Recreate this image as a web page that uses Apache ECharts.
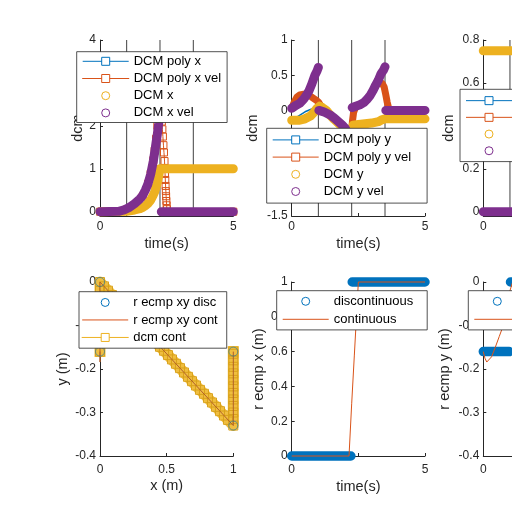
<!DOCTYPE html>
<html><head><meta charset="utf-8">
<script src="https://cdn.jsdelivr.net/npm/echarts@6/dist/echarts.min.js"></script>
<style>html,body{margin:0;padding:0;background:#fff}#c{width:512px;height:512px}</style>
</head><body><div id="c"></div>
<script>
// ---------- tick values ----------
const phaseTimes = [1, 2.25, 3.5];
const xTimeLabels = [0, 5];
const xTimeTicks = [0, 2.5, 5];
const xyTicks = [0, 0.5, 1];
const yTicksDcmX = [0, 1, 2, 3, 4];
const yTicksDcmY = [-1.5, -1, -0.5, 0, 0.5, 1];
const yTicksDcmZ = [0, 0.2, 0.4, 0.6, 0.8];
const yTicksEcmpX = [0, 0.2, 0.4, 0.6, 0.8, 1];
const yTicksEcmpY = [-0.4, -0.3, -0.2, -0.1, 0];

// ---------- subplot 1: DCM x ----------
const dcmPolyX = [[0,0],[1,0.01],[1.3,0.04],[1.5,0.07],[1.6,0.1],[1.7,0.14],[1.8,0.19],[1.9,0.27],[2,0.39],[2.05,0.46],[2.1,0.57],[2.15,0.68],[2.2,0.83],[2.25,1],[5,1]];
const dcmPolyXVel = [[0,0],[0.8,0.01],[1,0.05],[1.2,0.1],[1.4,0.18],[1.6,0.35],[1.8,0.65],[1.9,0.88],[2,1.2],[2.05,1.42],[2.1,1.7],[2.15,2],[2.2,2.3],[2.25,2.5],[2.3,2.3],[2.32,2.1],[2.34,1.92],[2.36,1.75],[2.38,1.55],[2.4,1.38],[2.42,1.18],[2.43,1.02],[2.44,0.88],[2.45,0.74],[2.46,0.6],[2.47,0.48],[2.48,0.36],[2.49,0.25],[2.5,0.15],[2.51,0.06],[2.53,0],[5,0]];
const dcmX = [[0,0],[1,0.01],[1.3,0.04],[1.5,0.07],[1.6,0.1],[1.7,0.14],[1.8,0.19],[1.9,0.27],[2,0.39],[2.05,0.46],[2.1,0.57],[2.15,0.68],[2.2,0.83],[2.25,1],[5,1]];
const dcmXVel = [[0,0],[0.7,0.01],[0.9,0.04],[1.1,0.1],[1.3,0.19],[1.5,0.3],[1.6,0.38],[1.7,0.5],[1.8,0.65],[1.9,0.87],[2,1.18],[2.05,1.38],[2.1,1.6],[2.15,1.8],[2.2,2.05],[2.25,2.45],[2.27,null],[2.3,0],[5,0]];

// ---------- subplot 2: DCM y ----------
const dcmPolyY = [[0,-0.14],[0.25,-0.08],[0.5,-0.02],[0.75,0.02],[1,0.03],[1.25,0],[1.5,-0.06],[1.75,-0.13],[2,-0.2],[2.25,-0.25],[2.5,-0.22],[2.75,-0.2],[3,-0.18],[3.25,-0.15],[3.5,-0.12],[5,-0.12]];
const dcmPolyYVel = [[0,0.03],[0.1,0.12],[0.2,0.19],[0.3,0.22],[0.45,0.23],[0.6,0.22],[0.75,0.19],[0.9,0.15],[1,0.12],[1.1,0.06],[1.2,0.01],[1.4,-0.05],[1.6,-0.11],[1.8,-0.18],[2,-0.26],[2.15,-0.35],[2.25,-0.3],[2.28,-0.15],[2.32,-0.03],[2.4,0.05],[2.6,0.09],[2.8,0.14],[3,0.24],[3.2,0.37],[3.3,0.41],[3.4,0.38],[3.47,0.33],[3.53,0.22],[3.58,0.12],[3.63,0.04],[3.7,0],[5,0]];
const dcmY = [[0,-0.14],[0.3,-0.14],[0.5,-0.12],[0.7,-0.08],[0.85,-0.02],[0.95,0.03],[1.05,0.06],[1.15,0.04],[1.3,0],[1.45,-0.07],[1.6,-0.13],[1.8,-0.2],[2,-0.26],[2.25,-0.33],[2.27,null],[2.3,-0.21],[2.5,-0.2],[2.75,-0.19],[3,-0.18],[3.25,-0.16],[3.4,-0.13],[3.5,-0.12],[5,-0.12]];
const dcmYVel = [[0,0.03],[0.15,0.07],[0.3,0.1],[0.45,0.16],[0.56,0.22],[0.65,0.28],[0.75,0.37],[0.87,0.5],[0.95,0.56],[1,0.61],[1.01,null],[1.02,0],[1.2,-0.02],[1.44,-0.065],[1.6,-0.11],[1.75,-0.16],[1.9,-0.21],[2,-0.25],[2.1,-0.32],[2.2,-0.42],[2.24,-0.5],[2.25,null],[2.27,0.04],[2.56,0.08],[2.7,0.11],[2.81,0.15],[2.94,0.21],[3.06,0.29],[3.15,0.36],[3.25,0.43],[3.35,0.52],[3.44,0.57],[3.5,0.62],[3.51,null],[3.53,0],[5,0]];

// ---------- subplot 3: DCM z ----------
const dcmPolyZ = [[0,0.75],[5,0.75]];
const dcmPolyZVel = [[0,0],[5,0]];
const dcmZ = [[0,0.75],[5,0.75]];
const dcmZVel = [[0,0],[5,0]];

// ---------- subplot 4: xy ----------
const rEcmpXYDisc = [[0,-0.16],[0,0],[1,-0.33],[1,-0.16]];
const rEcmpXYCont = [[0,-0.16],[0,-0.184],[0,0],[1,-0.33],[1,-0.16]];
const dcmCont = [[0,-0.16],[0,-0.13],[0,-0.1],[0,-0.07],[0,-0.04],[0,-0.02],[0,0],
  [0.03,-0.01],[0.06,-0.02],[0.09,-0.03],[0.12,-0.04],[0.15,-0.05],[0.18,-0.06],[0.21,-0.069],[0.24,-0.079],[0.27,-0.089],[0.3,-0.099],
  [0.33,-0.109],[0.36,-0.119],[0.39,-0.129],[0.42,-0.139],[0.45,-0.149],[0.48,-0.158],[0.51,-0.168],[0.54,-0.178],[0.57,-0.188],[0.6,-0.198],
  [0.63,-0.208],[0.66,-0.218],[0.69,-0.228],[0.72,-0.238],[0.75,-0.248],[0.78,-0.257],[0.81,-0.267],[0.84,-0.277],[0.87,-0.287],[0.9,-0.297],
  [0.93,-0.307],[0.96,-0.317],[1,-0.33],
  [1,-0.315],[1,-0.3],[1,-0.285],[1,-0.27],[1,-0.255],[1,-0.24],[1,-0.225],[1,-0.21],[1,-0.195],[1,-0.18],[1,-0.165],[1,-0.16]];

// ---------- subplot 5 / 6: ecmp ----------
const rEcmpXDisc = [[0,0],[2.22,0],[2.24,null],[2.27,1],[5,1]];
const rEcmpXCont = [[0,0],[2.15,0],[2.25,0.3],[2.35,0.58],[2.45,0.86],[2.5,1],[5,1]];
const rEcmpYDisc = [[0,-0.16],[0.97,-0.16],[0.99,null],[1.02,0],[2.22,0],[2.24,null],[2.27,-0.33],[3.47,-0.33],[3.49,null],[3.52,-0.16],[5,-0.16]];
const rEcmpYCont = [[0,-0.16],[0.06,-0.175],[0.13,-0.184],[0.2,-0.183],[0.31,-0.172],[0.45,-0.15],[0.6,-0.125],[0.69,-0.11],[0.8,-0.08],[0.9,-0.05],[1,-0.02],[1.1,0],[2.15,0],[2.5,-0.33],[3.4,-0.33],[3.75,-0.16],[5,-0.16]];

// ---------- styling ----------
const COL = {blue:'#0072BD', orange:'#D95319', yellow:'#EDB120', purple:'#7E2F8E'};
const AX = '#262626';
const FONT = 'Liberation Sans, Arial, sans-serif';

const grids = [
  {left:100, top:40, width:133.3, height:176},
  {left:291.7, top:40, width:133.3, height:176},
  {left:483.3, top:40, width:133.3, height:176},
  {left:100, top:282, width:133.3, height:174},
  {left:291.7, top:282, width:133.3, height:174},
  {left:483.3, top:282, width:133.3, height:174}
].map(g => Object.assign({containLabel:false, outerBoundsMode:'none'}, g));

function xAx(gi, min, max, labels, ticks, name, margin, gap){
  return {type:'value', gridIndex:gi, min, max,
    axisLine:{show:true, onZero:false, lineStyle:{color:AX, width:1}},
    axisTick:{show:true, inside:true, length:3, customValues:ticks, lineStyle:{color:AX}},
    axisLabel:{customValues:labels, color:AX, fontSize:12, margin, fontFamily:FONT},
    splitLine:{show:false},
    name, nameLocation:'middle', nameGap:gap, nameMoveOverlap:false,
    nameTextStyle:{fontSize:14.5, color:AX, fontFamily:FONT}};
}
function yAx(gi, min, max, vals, name, gap){
  return {type:'value', gridIndex:gi, min, max,
    axisLine:{show:true, onZero:false, lineStyle:{color:AX, width:1}},
    axisTick:{show:true, inside:true, length:3, customValues:vals, lineStyle:{color:AX}},
    axisLabel:{customValues:vals, color:AX, fontSize:12, margin:4, fontFamily:FONT},
    splitLine:{show:false},
    name, nameLocation:'middle', nameGap:gap, nameMoveOverlap:false,
    nameTextStyle:{fontSize:14.5, color:AX, fontFamily:FONT}};
}

function base(name, data, gi, z){
  return {type:'line', name, data, xAxisIndex:gi, yAxisIndex:gi, clip:false,
    connectNulls:false, animation:false, silent:true, z, emphasis:{disabled:true}};
}
function band(name, data, gi, z, color, w){
  return Object.assign(base(name, data, gi, z), {symbol:'circle', showSymbol:false,
    itemStyle:{color}, lineStyle:{color, width:w || 9, cap:'round', join:'round'}});
}
function plain(name, data, gi, z, color, w, sym){
  return Object.assign(base(name, data, gi, z), {symbol:sym || 'none', showSymbol:false,
    itemStyle:{color}, lineStyle:{color, width:w || 1, join:'round'}});
}
function sqLine(name, data, gi, z, color, w, size, lineColor){
  return Object.assign(base(name, data, gi, z), {symbol:'rect', symbolSize:size || 7, showSymbol:true,
    itemStyle:{color:'rgba(255,255,255,0)', borderColor:color, borderWidth:1},
    lineStyle:{color:lineColor || color, width:w || 1, join:'round', cap:'square'}});
}
function rings(name, data, gi, z, color, size, op){
  return Object.assign(base(name, data, gi, z), {symbol:'circle', symbolSize:size || 9, showSymbol:true,
    itemStyle:{color:'rgba(255,255,255,0)', borderColor:color, borderWidth:1, opacity:op == null ? 1 : op},
    lineStyle:{width:0, opacity:0}});
}
function vlines(name, gi, ts, y0, y1){
  const d = [];
  ts.forEach(t => { d.push([t, y0], [t, y1], [t, null]); });
  return plain(name, d, gi, 1, '#404040', 1);
}

const LI = {
  circ: (name, c) => ({name, itemStyle:{color:'#fff', borderColor:c, borderWidth:1, opacity:1}, lineStyle:{opacity:0}}),
  sq: (name, c) => ({name, itemStyle:{color:'#fff', borderColor:c, borderWidth:1, opacity:1}, lineStyle:{color:c, width:1, opacity:1}}),
  ln: (name, c) => ({name, itemStyle:{opacity:0}, lineStyle:{color:c, width:1, opacity:1}})
};
function leg(left, top, padding, lh, data){
  return {orient:'vertical', left, top, padding, itemWidth:46, itemHeight:10, itemGap:0, z:20,
    backgroundColor:'#fff', borderColor:AX, borderWidth:0.8, selectedMode:false,
    textStyle:{fontSize:13, color:'#000', lineHeight:lh, fontFamily:FONT}, data};
}

const series = [
  vlines('_v0', 0, phaseTimes, -0.1, 4),
  plain('DCM poly x', dcmPolyX, 0, 2, COL.blue, 1, 'rect'),
  sqLine('DCM poly x vel', dcmPolyXVel, 0, 3, COL.orange, 1, 7),
  band('DCM x', dcmX, 0, 4, COL.yellow, 9),
  band('DCM x vel', dcmXVel, 0, 5, COL.purple, 9),

  vlines('_v1', 1, phaseTimes, -1.5, 1),
  plain('DCM poly y', dcmPolyY, 1, 2, COL.blue, 1.5, 'rect'),
  plain('DCM poly y vel', dcmPolyYVel, 1, 3, COL.orange, 7, 'rect'),
  band('DCM y', dcmY, 1, 4, COL.yellow, 9),
  band('DCM y vel', dcmYVel, 1, 5, COL.purple, 9),

  vlines('_v2', 2, phaseTimes, -0.02, 0.8),
  plain('DCM poly z', dcmPolyZ, 2, 2, COL.blue, 1, 'rect'),
  plain('DCM poly z vel', dcmPolyZVel, 2, 3, COL.orange, 1, 'rect'),
  band('DCM z', dcmZ, 2, 4, COL.yellow, 9),
  band('DCM z vel', dcmZVel, 2, 5, COL.purple, 9),

  rings('r ecmp xy disc', rEcmpXYDisc, 3, 6, COL.blue, 9, 0.55),
  sqLine('dcm cont', dcmCont, 3, 3, '#D9A21A', 11, 9, '#F0BE40'),
  plain('r ecmp xy cont', rEcmpXYCont, 3, 4, '#B0602A', 1),

  band('discontinuous', rEcmpXDisc, 4, 2, COL.blue, 9.5),
  plain('continuous', rEcmpXCont, 4, 3, COL.orange, 1),

  band('discontinuous', rEcmpYDisc, 5, 2, COL.blue, 9.5),
  plain('continuous', rEcmpYCont, 5, 3, COL.orange, 1)
];

const option = {
  animation:false,
  backgroundColor:'#fff',
  textStyle:{fontFamily:FONT},
  grid: grids,
  xAxis: [
    xAx(0, 0, 5, xTimeLabels, xTimeTicks, 'time(s)', 5, 20.5),
    xAx(1, 0, 5, xTimeLabels, xTimeTicks, 'time(s)', 5, 20.5),
    xAx(2, 0, 5, xTimeLabels, xTimeTicks, 'time(s)', 5, 20.5),
    xAx(3, 0, 1, xyTicks, xyTicks, 'x (m)', 8, 22),
    xAx(4, 0, 5, xTimeLabels, xTimeTicks, 'time(s)', 8, 23.5),
    xAx(5, 0, 5, xTimeLabels, xTimeTicks, 'time(s)', 8, 23.5)
  ],
  yAxis: [
    yAx(0, -0.1, 4, yTicksDcmX, 'dcm', 15),
    yAx(1, -1.5, 1, yTicksDcmY, 'dcm', 31),
    yAx(2, -0.02, 0.8, yTicksDcmZ, 'dcm', 26.5),
    yAx(3, -0.4, 0, yTicksEcmpY, 'y (m)', 30),
    yAx(4, 0, 1, yTicksEcmpX, 'r ecmp x (m)', 25.5),
    yAx(5, -0.4, 0, yTicksEcmpY, 'r ecmp y (m)', 31)
  ],
  legend: [
    leg(76.7, 51.7, [1, 6, 1, 5], 17.2, [LI.sq('DCM poly x', COL.blue), LI.sq('DCM poly x vel', COL.orange), LI.circ('DCM x', COL.yellow), LI.circ('DCM x vel', COL.purple)]),
    leg(266.7, 128.3, [3, 16, 3, 5], 17.2, [LI.sq('DCM poly y', COL.blue), LI.sq('DCM poly y vel', COL.orange), LI.circ('DCM y', COL.yellow), LI.circ('DCM y vel', COL.purple)]),
    leg(460, 89.3, [3, 16, 2.5, 5], 16.7, [LI.sq('DCM poly z', COL.blue), LI.sq('DCM poly z vel', COL.orange), LI.circ('DCM z', COL.yellow), LI.circ('DCM z vel', COL.purple)]),
    leg(79, 291.7, [2, 9, 2, 2.7], 17.5, [LI.circ('r ecmp xy disc', COL.blue), LI.ln('r ecmp xy cont', COL.orange), LI.sq('dcm cont', COL.yellow)]),
    leg(276.7, 290.7, [1.6, 14, 1.6, 5], 18, [LI.circ('discontinuous', COL.blue), LI.ln('continuous', COL.orange)]),
    leg(468.3, 290.7, [1.6, 14, 1.6, 5], 18, [LI.circ('discontinuous', COL.blue), LI.ln('continuous', COL.orange)])
  ],
  series
};

const chart = echarts.init(document.getElementById('c'), null, {renderer:'canvas', width:512, height:512});
chart.setOption(option);
</script>
</body></html>
